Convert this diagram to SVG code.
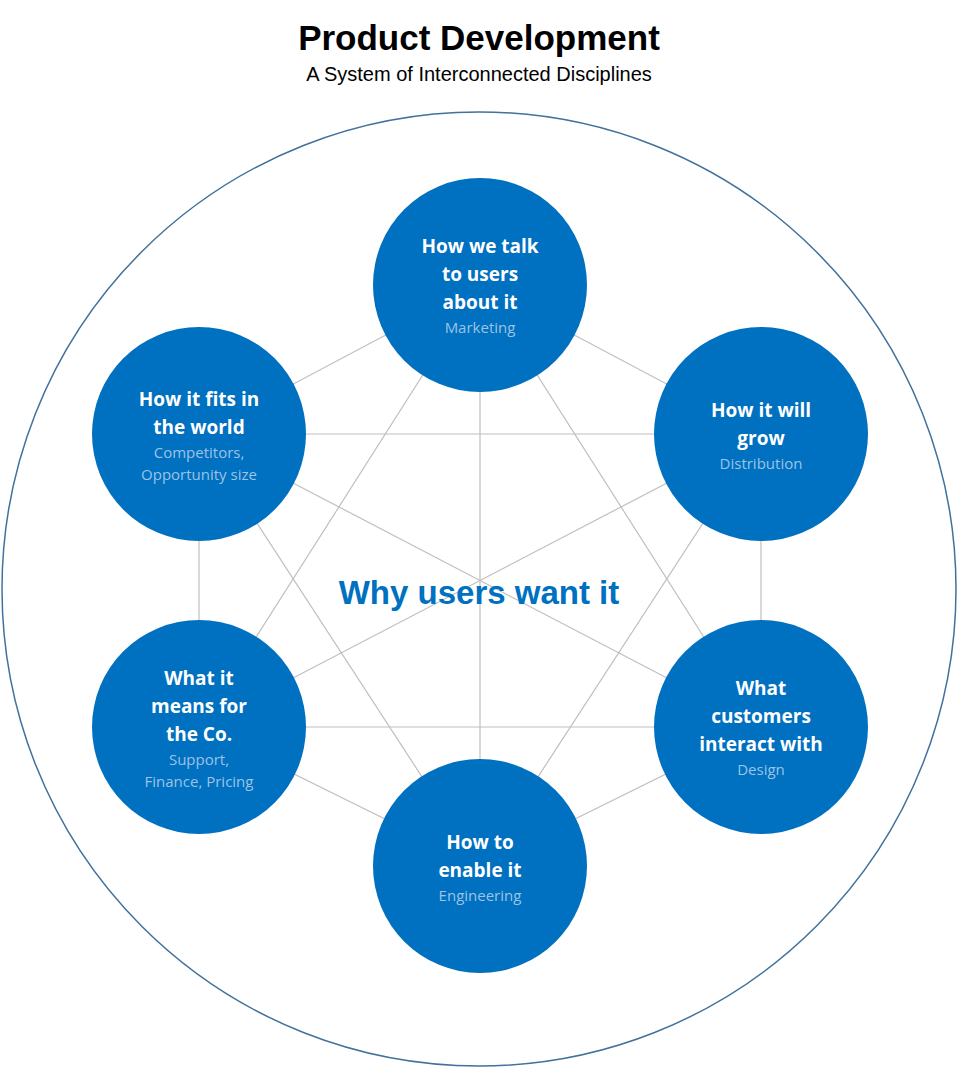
<svg xmlns="http://www.w3.org/2000/svg" width="958" height="1069" viewBox="0 0 958 1069">
<style>
.n{fill:#0070C0}
.t{font-family:"Open Sans",sans-serif;font-weight:bold;font-size:19px;fill:#fff;text-anchor:middle}
.s{font-family:"Open Sans",sans-serif;font-size:15px;fill:#9DC3E6;text-anchor:middle}
#edges line{stroke:#BFBFBF;stroke-width:1.2}
</style>
<rect width="958" height="1069" fill="#fff"/>
<text x="479" y="50" font-family="Liberation Sans,sans-serif" font-weight="bold" font-size="35" text-anchor="middle">Product Development</text>
<text x="479" y="81" font-family="Liberation Sans,sans-serif" font-size="20" text-anchor="middle">A System of Interconnected Disciplines</text>
<circle cx="479" cy="589" r="477" fill="none" stroke="#41719C" stroke-width="1.5"/>
<g id="edges">
<line x1="480" y1="285" x2="199" y2="434"/><line x1="480" y1="285" x2="761" y2="434"/>
<line x1="480" y1="285" x2="199" y2="727"/><line x1="480" y1="285" x2="761" y2="727"/>
<line x1="480" y1="285" x2="480" y2="866"/><line x1="199" y1="434" x2="761" y2="434"/>
<line x1="199" y1="434" x2="199" y2="727"/><line x1="199" y1="434" x2="761" y2="727"/>
<line x1="199" y1="434" x2="480" y2="866"/><line x1="761" y1="434" x2="199" y2="727"/>
<line x1="761" y1="434" x2="761" y2="727"/><line x1="761" y1="434" x2="480" y2="866"/>
<line x1="199" y1="727" x2="761" y2="727"/><line x1="199" y1="727" x2="480" y2="866"/>
<line x1="761" y1="727" x2="480" y2="866"/>
</g>
<text x="479" y="604" font-family="Liberation Sans,sans-serif" font-weight="bold" font-size="33" fill="#0070C0" text-anchor="middle">Why users want it</text>
<g id="marketing"><circle class="n" cx="480" cy="285" r="107"/>
<text class="t" x="480" y="253">How we talk</text><text class="t" x="480" y="281">to users</text><text class="t" x="480" y="309">about it</text><text class="s" x="480" y="333">Marketing</text></g>
<g id="world"><circle class="n" cx="199" cy="434" r="107"/>
<text class="t" x="199" y="406">How it fits in</text><text class="t" x="199" y="434">the world</text><text class="s" x="199" y="458">Competitors,</text><text class="s" x="199" y="480">Opportunity size</text></g>
<g id="grow"><circle class="n" cx="761" cy="434" r="107"/>
<text class="t" x="761" y="417">How it will</text><text class="t" x="761" y="445">grow</text><text class="s" x="761" y="469">Distribution</text></g>
<g id="company"><circle class="n" cx="199" cy="727" r="107"/>
<text class="t" x="199" y="685">What it</text><text class="t" x="199" y="713">means for</text><text class="t" x="199" y="741">the Co.</text><text class="s" x="199" y="765">Support,</text><text class="s" x="199" y="787">Finance, Pricing</text></g>
<g id="design"><circle class="n" cx="761" cy="727" r="107"/>
<text class="t" x="761" y="695">What</text><text class="t" x="761" y="723">customers</text><text class="t" x="761" y="751">interact with</text><text class="s" x="761" y="775">Design</text></g>
<g id="engineering"><circle class="n" cx="480" cy="866" r="107"/>
<text class="t" x="480" y="849">How to</text><text class="t" x="480" y="877">enable it</text><text class="s" x="480" y="901">Engineering</text></g>
</svg>
